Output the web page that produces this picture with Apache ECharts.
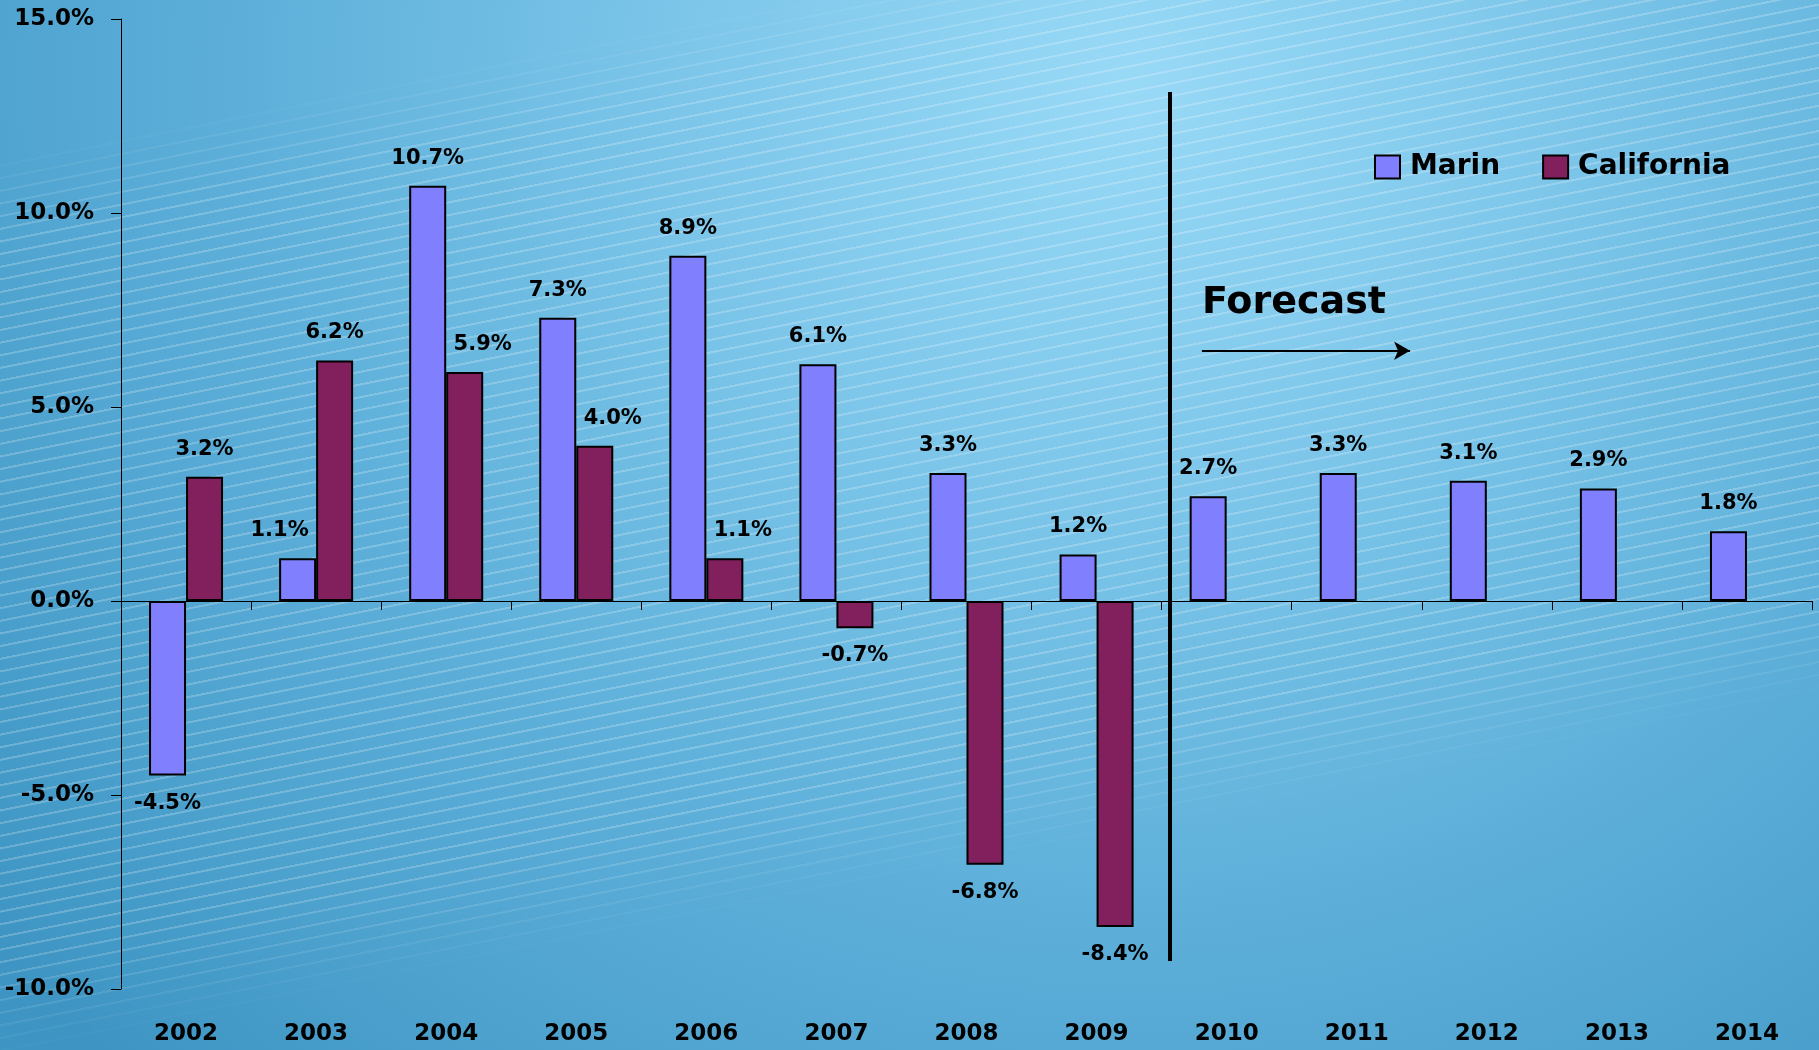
<!DOCTYPE html>
<html>
<head>
<meta charset="utf-8">
<script src="https://cdn.jsdelivr.net/npm/echarts@6/dist/echarts.min.js"></script>
<style>
  html, body { margin: 0; padding: 0; }
  .stage {
    position: relative;
    width: 1819px;
    height: 1050px;
    overflow: hidden;
    background: radial-gradient(ellipse 80% 130% at 62% 8%, #98d9f6 0%, #7dc6ea 30%, #5eb0da 60%, #3e95c3 100%);
  }
  /* diagonal light stripes behind the plot */
  .stripes {
    position: absolute;
    left: -690px;
    top: -21px;
    width: 3200px;
    height: 892px;
    transform: rotate(-11.3deg);
    background: repeating-linear-gradient(to bottom,
      rgba(255, 255, 255, 0.22) 0px, rgba(255, 255, 255, 0.22) 1.6px,
      rgba(255, 255, 255, 0) 2.4px, rgba(255, 255, 255, 0) 12.4px);
    -webkit-mask-image: linear-gradient(to bottom, transparent 0%, #000 10%, #000 88%, transparent 100%);
    mask-image: linear-gradient(to bottom, transparent 0%, #000 10%, #000 88%, transparent 100%);
  }
  #chart { position: absolute; left: 0; top: 0; width: 1819px; height: 1050px; }
</style>
</head>
<body>
<div class="stage">
  <div class="stripes"></div>
  <div id="chart"></div>
</div>
<script>
const years = ['2002', '2003', '2004', '2005', '2006', '2007', '2008', '2009', '2010', '2011', '2012', '2013', '2014']
const marin = [-4.5, 1.1, 10.7, 7.3, 8.9, 6.1, 3.3, 1.2, 2.7, 3.3, 3.1, 2.9, 1.8]
const california = [3.2, 6.2, 5.9, 4.0, 1.1, -0.7, -6.8, -8.4, null, null, null, null, null]
const yTicks = { min: -10, max: 15, interval: 5 }

// forecast annotation, in category units (0..13) and percent
const forecastLine = { x: 8.06, from: 13.12, to: -9.28 }
const forecastArrow = { x1: 8.31, x2: 9.91, y: 6.45 }
const forecastText = { x: 8.31, y: 7.69, text: 'Forecast' }

const FONT = 'DejaVu Sans'
const pct = v => v.toFixed(1) + '%'

// labels moved sideways in the original so they don't sit on the neighbour bar
const marinLabelLeft = ['2003']
const caLabelRight = ['2004', '2005', '2006']

const chart = echarts.init(document.getElementById('chart'))

const barLabel = {
  show: true,
  position: 'outside',
  distance: 17,
  color: '#000',
  fontFamily: FONT,
  fontWeight: 'bold',
  fontSize: 21,
  formatter: p => pct(p.value)
}

function withNudge (values, yearsToShift, dx) {
  return values.map((v, i) => {
    if (v !== null && yearsToShift.indexOf(years[i]) >= 0) {
      return { value: v, label: { offset: [dx, 0] } }
    }
    return v
  })
}

chart.setOption({
  animation: false,
  backgroundColor: 'transparent',
  grid: { left: 121, right: 7, top: 19, bottom: 61 },
  legend: {
    data: ['Marin', 'California'],
    left: 1369,
    top: 148,
    itemWidth: 25,
    itemHeight: 23,
    itemGap: 42,
    icon: 'rect',
    textStyle: { color: '#000', fontFamily: FONT, fontWeight: 'bold', fontSize: 28, padding: [0, 0, 0, 5] }
  },
  xAxis: [
    {
      type: 'category',
      data: years,
      axisLine: { onZero: true, lineStyle: { color: '#000', width: 1 } },
      axisTick: { show: true, inside: false, length: 9, lineStyle: { color: '#000' } },
      axisLabel: { show: false },
      splitLine: { show: false }
    },
    {
      type: 'category',
      data: years,
      position: 'bottom',
      axisLine: { show: false, onZero: false },
      axisTick: { show: false },
      axisLabel: { color: '#000', fontFamily: FONT, fontWeight: 'bold', fontSize: 23, margin: 34 },
      splitLine: { show: false }
    },
    {
      type: 'value',
      min: 0,
      max: years.length,
      show: false
    }
  ],
  yAxis: {
    type: 'value',
    min: yTicks.min,
    max: yTicks.max,
    interval: yTicks.interval,
    axisLine: { show: true, lineStyle: { color: '#000', width: 1 } },
    axisTick: { show: true, inside: false, length: 10, lineStyle: { color: '#000' } },
    axisLabel: { color: '#000', fontFamily: FONT, fontWeight: 'bold', fontSize: 23, margin: 27, formatter: v => pct(v) },
    splitLine: { show: false }
  },
  series: [
    {
      name: 'Marin',
      type: 'bar',
      xAxisIndex: 0,
      data: withNudge(marin, marinLabelLeft, -18),
      barWidth: 37,
      barGap: '0%',
      itemStyle: { color: '#8080ff', borderColor: '#000', borderWidth: 2 },
      label: barLabel
    },
    {
      name: 'California',
      type: 'bar',
      xAxisIndex: 0,
      data: withNudge(california, caLabelRight, 18),
      barWidth: 37,
      barGap: '0%',
      itemStyle: { color: '#82205e', borderColor: '#000', borderWidth: 2 },
      label: barLabel
    },
    {
      name: 'forecast',
      type: 'line',
      xAxisIndex: 2,
      data: [],
      silent: true,
      markLine: {
        silent: true,
        animation: false,
        label: { show: false },
        data: [
          [
            { coord: [forecastLine.x, forecastLine.from], symbol: 'none', lineStyle: { color: '#000', width: 4, type: 'solid' } },
            { coord: [forecastLine.x, forecastLine.to], symbol: 'none' }
          ],
          [
            { coord: [forecastArrow.x1, forecastArrow.y], symbol: 'none', lineStyle: { color: '#000', width: 2, type: 'solid' } },
            { coord: [forecastArrow.x2, forecastArrow.y], symbol: 'arrow', symbolSize: [14, 16] }
          ]
        ]
      },
      markPoint: {
        silent: true,
        symbol: 'circle',
        symbolSize: 0,
        data: [{
          coord: [forecastText.x, forecastText.y],
          label: {
            show: true,
            position: [0, 0],
            align: 'left',
            verticalAlign: 'middle',
            formatter: forecastText.text,
            color: '#000',
            fontFamily: FONT,
            fontWeight: 'bold',
            fontSize: 38
          }
        }]
      }
    }
  ]
})
</script>
</body>
</html>
